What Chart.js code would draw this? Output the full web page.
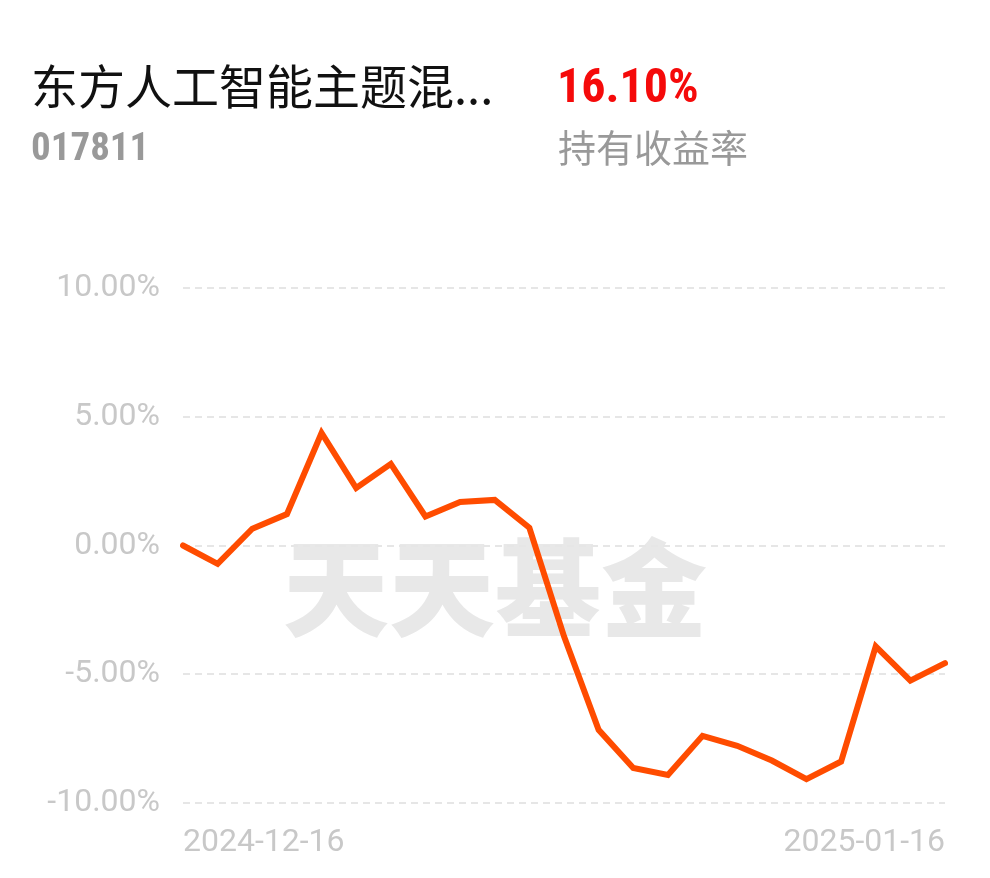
<!DOCTYPE html>
<html>
<head>
<meta charset="utf-8">
<script src="https://cdn.jsdelivr.net/npm/chart.js@4.4.1/dist/chart.umd.min.js"></script>
<style>
  html, body { margin: 0; padding: 0; background: #fff; }
  #wrap { position: relative; width: 990px; height: 878px; overflow: hidden; }
  #c { position: absolute; left: 0; top: 0; }
  .t { position: absolute; white-space: nowrap; line-height: 1; }
  #name { left: 31px; top: 49px; font: 47px "Noto Sans CJK SC", sans-serif; color: #111; }
  #code { left: 31px; top: 124px; font: bold 39px "Liberation Sans Narrow", "Roboto Condensed", Roboto, sans-serif; color: #999; }
  #rate { left: 557px; top: 57px; font: bold 48px "Liberation Sans Narrow", "Roboto Condensed", Roboto, sans-serif; color: #f50a0a; }
  #rlab { left: 558px; top: 118px; font: 38px "Noto Sans CJK SC", sans-serif; color: #999; }
</style>
</head>
<body>
<div id="wrap">
  <canvas id="c" width="990" height="878"></canvas>
  <div class="t" id="name">东方人工智能主题混...</div>
  <div class="t" id="code">017811</div>
  <div class="t" id="rate">16.10%</div>
  <div class="t" id="rlab">持有收益率</div>
</div>
<script>
const dates = ["2024-12-16","2024-12-17","2024-12-18","2024-12-19","2024-12-20",
  "2024-12-23","2024-12-24","2024-12-25","2024-12-26","2024-12-27",
  "2024-12-30","2024-12-31","2025-01-02","2025-01-03",
  "2025-01-06","2025-01-07","2025-01-08","2025-01-09","2025-01-10",
  "2025-01-13","2025-01-14","2025-01-15","2025-01-16"];
const returns = [0.00,-0.71,0.65,1.22,4.37,2.23,3.17,1.13,1.69,1.77,0.69,-3.53,-7.16,-8.64,-8.91,-7.39,-7.78,-8.35,-9.07,-8.39,-3.92,-5.25,-4.57];
const yTicks = [-10, -5, 0, 5, 10];
const watermark = "天天基金";

const bgPlugin = {
  id: 'watermark',
  beforeDraw(chart) {
    const ctx = chart.ctx;
    ctx.save();
    ctx.fillStyle = '#e8e8e8';
    ctx.font = '900 106px "Noto Sans CJK SC", sans-serif';
    ctx.textAlign = 'center';
    ctx.textBaseline = 'middle';
    ctx.fillText(watermark, chart.width / 2, 588);
    ctx.restore();
  },
  afterDraw(chart) {
    const ctx = chart.ctx;
    const xs = chart.scales.x;
    const y = chart.chartArea.bottom + 40;
    ctx.save();
    ctx.fillStyle = '#c8c8c8';
    ctx.font = '32px Roboto, sans-serif';
    ctx.textBaseline = 'middle';
    ctx.textAlign = 'left';
    ctx.fillText(dates[0], xs.getPixelForValue(0), y);
    ctx.textAlign = 'right';
    ctx.fillText(dates[dates.length - 1], xs.getPixelForValue(dates.length - 1), y);
    ctx.restore();
  }
};

new Chart(document.getElementById('c'), {
  type: 'line',
  data: {
    labels: dates,
    datasets: [{
      data: returns,
      borderColor: '#ff4c00',
      borderWidth: 6,
      pointRadius: 0,
      tension: 0,
      fill: false,
      borderCapStyle: 'round'
    }]
  },
  options: {
    responsive: false,
    animation: false,
    layout: { padding: { top: 288, right: 45, bottom: 67, left: 0 } },
    plugins: { legend: { display: false }, tooltip: { enabled: false } },
    scales: {
      x: {
        type: 'category',
        offset: false,
        ticks: { display: false },
        grid: { display: false },
        border: { display: false }
      },
      y: {
        min: -10, max: 10,
        afterFit(scale) { scale.width = 183; },
        afterBuildTicks(scale) { scale.ticks = yTicks.map(v => ({ value: v })); },
        ticks: {
          padding: 23,
          color: '#c8c8c8',
          font: { family: 'Roboto', size: 32 },
          callback: v => v.toFixed(2) + '%'
        },
        grid: { color: '#e6e6e6', lineWidth: 2, drawTicks: false },
        border: { display: false, dash: [7, 5] }
      }
    }
  },
  plugins: [bgPlugin]
});
</script>
</body>
</html>
